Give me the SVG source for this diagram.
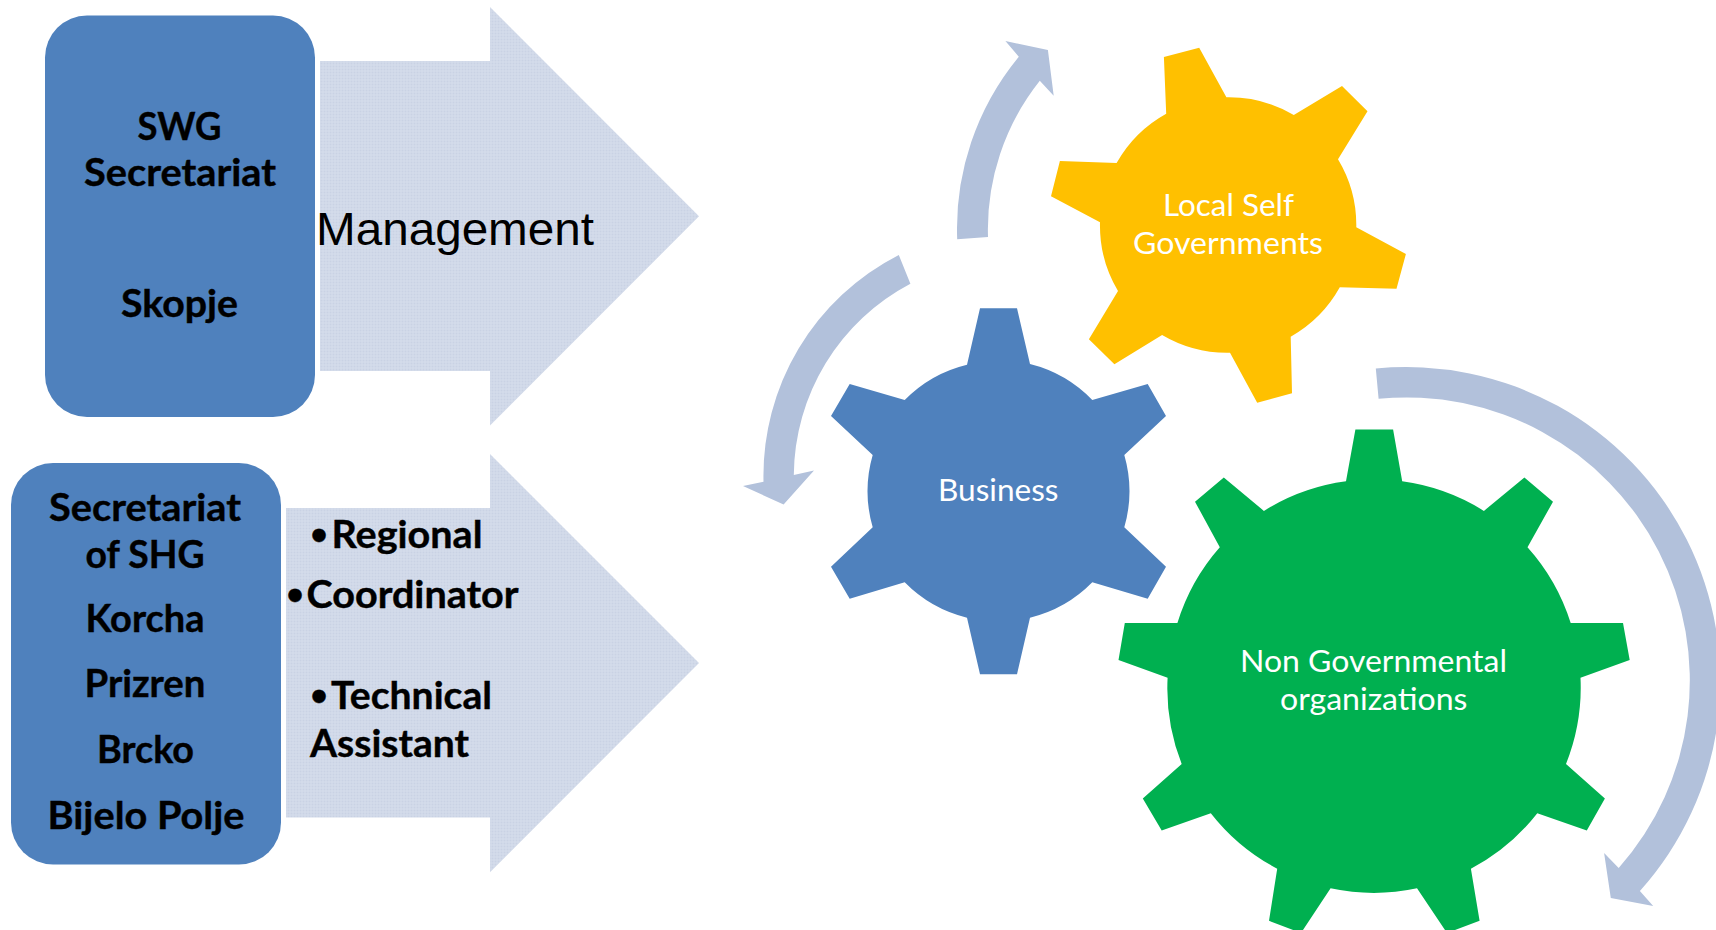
<svg xmlns="http://www.w3.org/2000/svg" width="1716" height="930" viewBox="0 0 1716 930">
<style>
.box{fill:#4F81BD}
.arr{fill:url(#tex)}
.flow{fill:#B2C1DB}
.b{font-family:Lato,"Open Sans",sans-serif;font-weight:700;font-size:38px;fill:#000;stroke:#000;stroke-width:.4px}
.bu{font-family:"Liberation Sans",Arial,sans-serif;font-size:46px}
.w{font-family:Lato,"Open Sans",sans-serif;font-weight:400;font-size:30px;fill:#fff}
.m{font-family:"Liberation Sans",Arial,sans-serif;font-size:46px;fill:#000}
</style>
<defs>
<pattern id="tex" width="3" height="3" patternUnits="userSpaceOnUse">
<rect width="3" height="3" fill="#D0D8E8"/>
<rect width="1" height="1" fill="#C9D2E4"/>
<rect x="1.5" y="1.5" width="1" height="1" fill="#DFE5F0"/>
</pattern>
</defs>
<rect width="1716" height="930" fill="#fff"/>

<g id="arrow-management">
<path class="arr" d="M320 61H490V7L699 216.3L490 425.5V371H320Z"/>
<text class="m" x="316" y="245" textLength="278" lengthAdjust="spacingAndGlyphs">Management</text>
</g>
<g id="arrow-roles">
<path class="arr" d="M286 508H490V454L699 663L490 872.3V817.5H286Z"/>
<text class="b" y="547.7"><tspan class="bu" x="311" dy="3">•</tspan><tspan x="331.5" dy="-3" textLength="151" lengthAdjust="spacingAndGlyphs">Regional</tspan></text>
<text class="b" y="607.7"><tspan class="bu" x="287" dy="3">•</tspan><tspan x="306.5" dy="-3" textLength="212" lengthAdjust="spacingAndGlyphs">Coordinator</tspan></text>
<text class="b" y="709.3"><tspan class="bu" x="311" dy="3">•</tspan><tspan x="331" dy="-3" textLength="161" lengthAdjust="spacingAndGlyphs">Technical</tspan></text>
<text class="b" x="310" y="756.7" textLength="159" lengthAdjust="spacingAndGlyphs">Assistant</text>
</g>
<g id="box-swg">
<rect class="box" x="45" y="15.5" width="270" height="401.5" rx="42" ry="42"/>
<text class="b" x="137.5" y="140" textLength="84" lengthAdjust="spacingAndGlyphs">SWG</text>
<text class="b" x="84" y="186" textLength="192" lengthAdjust="spacingAndGlyphs">Secretariat</text>
<text class="b" x="121" y="317" textLength="117" lengthAdjust="spacingAndGlyphs">Skopje</text>
</g>
<g id="box-shg">
<rect class="box" x="11" y="463" width="270" height="401.5" rx="42" ry="42"/>
<text class="b" x="49" y="521" textLength="192" lengthAdjust="spacingAndGlyphs">Secretariat</text>
<text class="b" x="85.5" y="568" textLength="119" lengthAdjust="spacingAndGlyphs">of SHG</text>
<text class="b" x="85.5" y="632" textLength="119" lengthAdjust="spacingAndGlyphs">Korcha</text>
<text class="b" x="84.5" y="697" textLength="121" lengthAdjust="spacingAndGlyphs">Prizren</text>
<text class="b" x="97" y="762.7" textLength="97" lengthAdjust="spacingAndGlyphs">Brcko</text>
<text class="b" x="47.5" y="829" textLength="197" lengthAdjust="spacingAndGlyphs">Bijelo Polje</text>
</g>

<g id="connectors">
<path class="flow" d="M957.2 239.3A270 270 0 0 1 1018.8 56.7L1005.4 41L1047.9 50L1053.7 95.7L1039.8 80.7A239 239 0 0 0 988 237Z"/>
<path class="flow" d="M898.8 255A248 248 0 0 0 763.5 481.7L743 486L783.6 504.5L814 470.6L793.8 475A218 218 0 0 1 910.4 283.7Z"/>
<path class="flow" d="M1375.8 368.5A314 314 0 0 1 1639.9 890.9L1653.2 906L1610.8 897.9L1604.1 853L1618.7 868A283 283 0 0 0 1378.6 398.8Z"/>
</g>

<g id="gear-local">
<path fill="#FFC000" d="M1163.9 57L1199.2 47.7L1226.4 97.3A128 128 0 0 1 1293.8 115L1342 86L1367.5 111.3L1338 159.3A128 128 0 0 1 1356.3 227.3L1405.9 254L1396.5 288.7L1339.8 287.3A128 128 0 0 1 1290.7 336.7L1292 393.3L1257.2 402.7L1230 352.7A128 128 0 0 1 1162.1 335L1114.4 364.3L1088.9 339.3L1118 291A128 128 0 0 1 1100 222.3L1051 196.3L1059.9 161L1116.6 163A128 128 0 0 1 1166.2 113.7Z"/>
<text class="w" x="1163" y="215.7" textLength="131" lengthAdjust="spacingAndGlyphs">Local Self</text>
<text class="w" x="1133" y="254" textLength="190" lengthAdjust="spacingAndGlyphs">Governments</text>
</g>
<g id="gear-business">
<path fill="#4F81BD" d="M980 308.3H1017L1030 364A130.5 130.5 0 0 1 1092.3 400L1147.7 384L1166 416L1124.3 455A130.5 130.5 0 0 1 1124.3 527.3L1166 566.7L1147.7 598.7L1092.3 582.3A130.5 130.5 0 0 1 1030 617.7L1017 674.3H980L967 617.7A130.5 130.5 0 0 1 904.7 582.3L849.7 598.7L831 566.7L872.7 527.3A130.5 130.5 0 0 1 872.7 455L831 416L849.7 384L904.7 400A130.5 130.5 0 0 1 967 364.7Z"/>
<text class="w" x="938" y="500.7" textLength="120.5" lengthAdjust="spacingAndGlyphs">Business</text>
</g>
<g id="gear-ngo">
<path fill="#00B050" d="M1355.4 429.5H1393.1L1402.2 481.3A206 206 0 0 1 1483.9 510.9L1524.4 477.6L1553 501.7L1527.5 547.2A206 206 0 0 1 1570.7 623H1623L1629.7 660L1580.5 677.8A206 206 0 0 1 1566 764L1604.9 798.4L1586.8 830.6L1537.3 813.2A206 206 0 0 1 1470.9 868.7L1479.6 920.8L1447 933L1417 888.3A206 206 0 0 1 1330.6 888.3L1301 933L1269 920.8L1277.2 868.7A206 206 0 0 1 1210.8 813.2L1161.7 830.6L1142.8 798.4L1181.7 764A206 206 0 0 1 1167.6 677.8L1118.5 660L1124.8 623H1177.4A206 206 0 0 1 1219.8 547.2L1195 501.7L1223.8 477.6L1263.9 510.9A206 206 0 0 1 1346 481.3Z"/>
<text class="w" x="1240" y="671.9" textLength="267" lengthAdjust="spacingAndGlyphs">Non Governmental</text>
<text class="w" x="1280" y="709.6" textLength="187.5" lengthAdjust="spacingAndGlyphs">organizations</text>
</g>
</svg>
